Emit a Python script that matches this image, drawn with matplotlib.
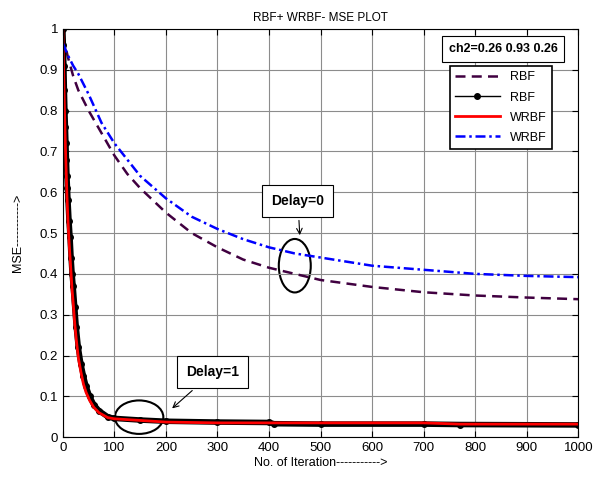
import numpy as np
import matplotlib.pyplot as plt
from matplotlib.patches import Ellipse
from matplotlib.lines import Line2D

plt.rcParams['font.family'] = ['Liberation Sans', 'DejaVu Sans']

# delay = 0 curves
it0 = [0, 10, 20, 30, 50, 75, 100, 125, 150, 200, 250, 300, 350, 400, 450,
       500, 600, 700, 800, 900, 1000]
rbf0 = [0.985, 0.93, 0.885, 0.85, 0.80, 0.745, 0.69, 0.645, 0.61, 0.55, 0.50,
        0.465, 0.435, 0.415, 0.40, 0.385, 0.368, 0.355, 0.347, 0.342, 0.338]
wrbf0 = [0.965, 0.935, 0.91, 0.89, 0.84, 0.77, 0.72, 0.68, 0.64, 0.585, 0.54,
         0.51, 0.485, 0.465, 0.45, 0.44, 0.42, 0.41, 0.40, 0.395, 0.392]

# delay = 1 curves
it1 = [0, 1, 2, 3, 4, 5, 6, 7, 8, 9, 10, 12, 14, 16, 18, 20, 23, 26, 30, 35,
       40, 45, 52, 60, 70, 87, 100, 150, 200, 300, 400, 410, 500, 700, 770, 1000]
rbf1 = [1.0, 0.96, 0.91, 0.85, 0.80, 0.76, 0.72, 0.68, 0.64, 0.61, 0.58, 0.53,
        0.49, 0.44, 0.40, 0.37, 0.32, 0.27, 0.22, 0.18, 0.15, 0.125, 0.10,
        0.08, 0.065, 0.05, 0.046, 0.042, 0.039, 0.037, 0.036, 0.033, 0.032,
        0.032, 0.031, 0.030]
wrbf1 = [1.0, 0.93, 0.87, 0.81, 0.76, 0.71, 0.67, 0.63, 0.59, 0.56, 0.53, 0.48,
         0.44, 0.40, 0.36, 0.33, 0.28, 0.24, 0.195, 0.16, 0.13, 0.11, 0.09,
         0.073, 0.06, 0.048, 0.045, 0.041, 0.037, 0.035, 0.035, 0.035, 0.035,
         0.035, 0.032, 0.032]

fig = plt.figure(figsize=(6.1, 4.82), dpi=100)
ax = fig.add_axes([0.103, 0.093, 0.845, 0.847])

purple = '#400040'
ax.plot(it0, rbf0, '--', color=purple, lw=1.8, dashes=(4, 2.5))
ax.plot(it1, rbf1, '-', color='k', lw=4)
ax.plot(it1, rbf1, '-', color='k', lw=1, marker='o', ms=4)
ax.plot(it1, wrbf1, '-', color='r', lw=2)
ax.plot(it0, wrbf0, '-.', color='b', lw=1.8, dashes=(4, 1.5, 1, 1.5))

ax.set_xlim(0, 1000)
ax.set_ylim(0, 1)
ax.set_xticks(np.arange(0, 1001, 100))
ax.set_yticks(np.arange(0, 1.01, 0.1))
ax.set_yticklabels(['0', '0.1', '0.2', '0.3', '0.4', '0.5', '0.6', '0.7',
                    '0.8', '0.9', '1'])
ax.tick_params(direction='in', top=True, right=True, labelsize=9.5, length=4)
ax.grid(True, color='#8c8c8c', lw=0.8)
for s in ax.spines.values():
    s.set_linewidth(0.8)

ax.set_title('RBF+ WRBF- MSE PLOT', fontsize=8.5, pad=6)
ax.set_xlabel('No. of Iteration----------->', fontsize=9, labelpad=2)
ax.set_ylabel('MSE----------->', fontsize=9, labelpad=11)

handles = [Line2D([], [], ls='--', color=purple, lw=1.8, dashes=(4, 2.5)),
           Line2D([], [], ls='-', color='k', lw=1, marker='o', ms=4, markevery=[1]),
           Line2D([], [], ls='-', color='r', lw=2),
           Line2D([], [], ls='-.', color='b', lw=1.8, dashes=(4, 1.5, 1, 1.5))]
leg = ax.legend(handles, ['RBF', 'RBF', 'WRBF', 'WRBF'], loc='upper left',
                bbox_to_anchor=(0.751, 0.908), fontsize=9, fancybox=False,
                framealpha=1, edgecolor='k', borderpad=0.4, handlelength=3.6,
                labelspacing=0.65, borderaxespad=0)
leg.get_frame().set_linewidth(1.2)

ax.text(854, 0.95, 'ch2=0.26 0.93 0.26', fontsize=9, fontweight='bold',
        ha='center', va='center',
        bbox=dict(boxstyle='square,pad=0.55', fc='white', ec='k', lw=0.8))

ax.add_patch(Ellipse((148, 0.049), 94, 0.082, fill=False, ec='k', lw=1.5))
ax.add_patch(Ellipse((450, 0.42), 62, 0.131, fill=False, ec='k', lw=1.5))

ax.annotate('Delay=1', xy=(208, 0.066), xytext=(291, 0.159), fontsize=10,
            fontweight='bold', ha='center', va='center',
            bbox=dict(boxstyle='square,pad=0.65', fc='white', ec='k', lw=0.8),
            arrowprops=dict(arrowstyle='->', color='k', lw=0.8))
ax.annotate('Delay=0', xy=(460, 0.488), xytext=(456, 0.578), fontsize=10,
            fontweight='bold', ha='center', va='center',
            bbox=dict(boxstyle='square,pad=0.65', fc='white', ec='k', lw=0.8),
            arrowprops=dict(arrowstyle='->', color='k', lw=0.8))

fig.savefig('out.png', dpi=100)
